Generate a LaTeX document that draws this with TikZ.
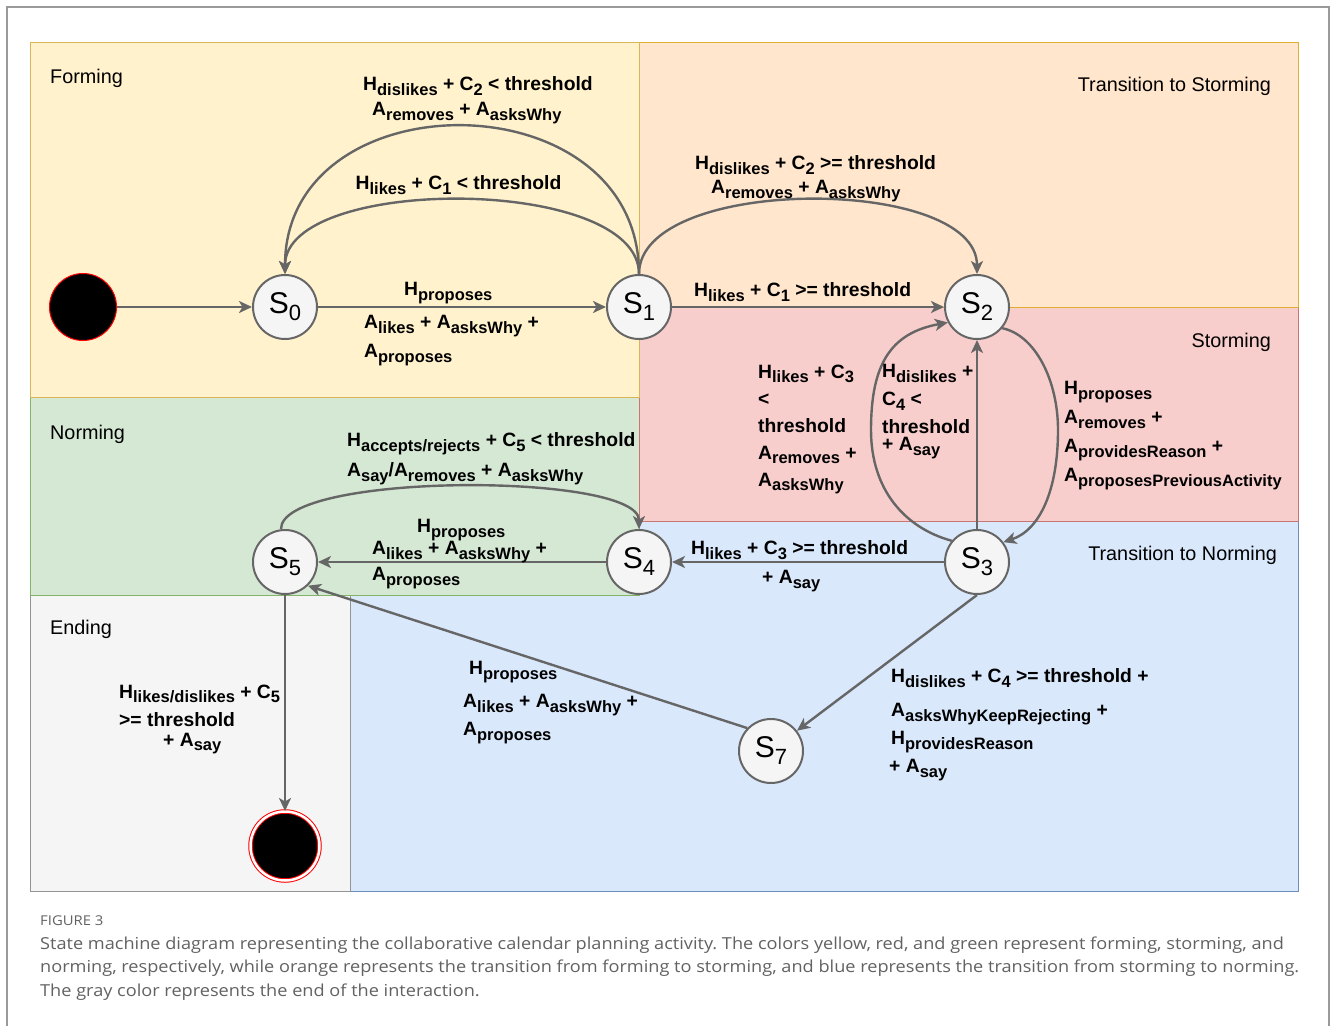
\documentclass[tikz,border=0pt]{standalone}
\usepackage{fontspec}
\setmainfont{Liberation Sans}
\newfontfamily\capfont[FakeStretch=1.1]{Open Sans}
\usetikzlibrary{arrows.meta}

\definecolor{yelF}{HTML}{FFF2CC}\definecolor{yelS}{HTML}{D6B656}
\definecolor{orgF}{HTML}{FFE6CC}\definecolor{orgS}{HTML}{D79B00}
\definecolor{redF}{HTML}{F8CECC}\definecolor{redS}{HTML}{B85450}
\definecolor{grnF}{HTML}{D5E8D4}\definecolor{grnS}{HTML}{82B366}
\definecolor{bluF}{HTML}{DAE8FC}\definecolor{bluS}{HTML}{6C8EBF}
\definecolor{gryF}{HTML}{F5F5F5}\definecolor{gryS}{HTML}{666666}
\definecolor{edgegray}{HTML}{666666}
\definecolor{framegray}{HTML}{9A9A9A}
\definecolor{captiongray}{HTML}{626262}

\setlength{\lineskiplimit}{-100pt}
\frenchspacing
% subscripts of transition labels and of state names
\newcommand\lsub[1]{\raisebox{-4.5pt}{\fontsize{16.5pt}{16.5pt}\selectfont #1}}
\newcommand\ssub[1]{\raisebox{-7pt}{\fontsize{22pt}{22pt}\selectfont #1}}
\newcommand\Hx[1]{H\lsub{#1}}
\newcommand\Ax[1]{A\lsub{#1}}
\newcommand\Cx[1]{C\lsub{#1}}

\begin{document}
\begin{tikzpicture}[x=1pt,y=-1pt,
  region/.style={line width=1pt},
  rlabel/.style={font=\fontsize{19.8pt}{22pt}\selectfont, inner sep=0pt, anchor=base west},
  state/.style={circle, draw=gryS, fill=gryF, line width=2pt, minimum size=64pt,
    inner sep=0pt, font=\fontsize{30pt}{30pt}\selectfont},
  lbl/.style={font=\bfseries\fontsize{19.3pt}{#1}\selectfont, inner sep=0pt,
    anchor=north west, align=left},
  lbl/.default=28pt,
  edge/.style={draw=edgegray, line width=2.4pt,
    -{Stealth[length=13pt,width=12pt,inset=3.5pt]}},
  captext/.style={font=\capfont\fontsize{16.5pt}{20pt}\selectfont, text=captiongray,
    inner sep=0pt, anchor=base west}
]
\useasboundingbox (0,0) rectangle (1330,1025);
\clip (0,0) rectangle (1330,1025);
\fill[white] (0,0) rectangle (1330,1025);

% outer frame
\draw[framegray, line width=1.5pt] (7,1040) -- (7,7) -- (1329,7) -- (1329,1040);

% phase regions
\draw[region, fill=bluF, draw=bluS] (350,521) rectangle (1298,891);
\draw[region, fill=gryF, draw=gryS!70] (30,595) rectangle (350,891);
\draw[region, fill=grnF, draw=grnS] (30,397) rectangle (639,595);
\draw[region, fill=redF, draw=redS!80] (639,307) rectangle (1298,521);
\draw[region, fill=orgF, draw=orgS!80] (639,43) rectangle (1298,307);
\draw[region, fill=yelF, draw=yelS] (30,43) rectangle (639,397);

\node[rlabel] (tform) at (50,83) {Forming};
\node[rlabel, anchor=base east] (ttostorm) at (1271,91) {Transition to Storming};
\node[rlabel, anchor=base east] (tstorm) at (1271,347) {Storming};
\node[rlabel] (tnorm) at (50,439) {Norming};
\node[rlabel, anchor=base east] (ttonorm) at (1277,560) {Transition to Norming};
\node[rlabel] (tend) at (50,634) {Ending};

% states
\node[circle, fill=black, draw=red, line width=1pt, minimum size=67pt, inner sep=0pt] (init) at (83,307) {};
\node[state] (s0) at (285,307) {S\ssub{0}};
\node[state] (s1) at (639,307) {S\ssub{1}};
\node[state] (s2) at (977,307) {S\ssub{2}};
\node[state] (s3) at (977,562) {S\ssub{3}};
\node[state] (s4) at (639,562) {S\ssub{4}};
\node[state] (s5) at (285,562) {S\ssub{5}};
\node[state] (s7) at (771,751) {S\ssub{7}};
\node[circle, fill=black, draw=red, line width=1pt, double=white, double distance=2.5pt,
  minimum size=69pt, inner sep=0pt] (fin) at (285,846) {};

% transitions
\draw[edge] (init) -- (s0);
\draw[edge] (s0) -- (s1);
\draw[edge] (s1.north) .. controls (639,77) and (285,77) .. (s0.north);
\draw[edge] (s1.north) .. controls (639,175) and (285,175) .. (s0.north);
\draw[edge] (s1.north) .. controls (639,175) and (977,175) .. (s2.north);
\draw[edge] (s1) -- (s2);
\draw[edge] (s3) -- (s2);
\draw[edge] (s3.140) .. controls (905,528) and (871,490) .. (871,430)
  .. controls (871,365) and (890,333) .. (s2.208);
\draw[edge] (s2.-40) .. controls (1035,335) and (1058,380) .. (1058,430)
  .. controls (1058,490) and (1040,530) .. (s3.37);
\draw[edge] (s3) -- (s4);
\draw[edge] (s4) -- (s5);
\draw[edge] (s5.97) .. controls (280,472) and (639,472) .. (s4.north);
\draw[edge] (s3.south) -- (s7.38);
\draw[edge] (s7.136) -- (s5.-46);
\draw[edge] (s5) -- (fin);

% transition labels
\node[lbl=25pt] (l1) at (363,76.5) {\Hx{dislikes} + \Cx{2} < threshold\\\hspace*{9pt}\Ax{removes} + \Ax{asksWhy}};
\node[lbl] (l2) at (355.5,175.5) {\Hx{likes} + \Cx{1} < threshold};
\node[lbl] (l3) at (404,282.5) {\Hx{proposes}};
\node[lbl=29pt] (l4) at (364,315.5) {\Ax{likes} + \Ax{asksWhy} +\\\Ax{proposes}};
\node[lbl=24pt] (l5) at (695,155.5) {\Hx{dislikes} + \Cx{2} >= threshold\\\hspace*{16pt}\Ax{removes} + \Ax{asksWhy}};
\node[lbl] (l6) at (694,282.5) {\Hx{likes} + \Cx{1} >= threshold};
\node[lbl=27pt] (l7) at (758,364.5) {\Hx{likes} + \Cx{3}\\<\\threshold\\\Ax{removes} +\\\Ax{asksWhy}};
\node[lbl=28pt] (l8) at (882,364.5) {\Hx{dislikes} +\\\Cx{4} <\\threshold\\[-11pt]+ \Ax{say}};
\node[lbl=29pt] (l9) at (1064,381.5) {\Hx{proposes}\\\Ax{removes} +\\\Ax{providesReason} +\\\Ax{proposesPreviousActivity}};
\node[lbl=30pt] (l10) at (347,432.5) {\Hx{accepts/rejects} + \Cx{5} < threshold\\\Ax{say}/\Ax{removes} + \Ax{asksWhy}};
\node[lbl] (l11) at (417,519.5) {\Hx{proposes}};
\node[lbl=26pt] (l12) at (372,541.5) {\Ax{likes} + \Ax{asksWhy} +\\\Ax{proposes}};
\node[lbl=28pt] (l13) at (119,684.5) {\Hx{likes/dislikes} + \Cx{5}\\>= threshold\\[-8pt]\hspace*{44pt}+ \Ax{say}};
\node[lbl=28pt] (l14) at (463,661.5) {\hspace*{6pt}\Hx{proposes}\\[5pt]\Ax{likes} + \Ax{asksWhy} +\\\Ax{proposes}};
\node[lbl=29pt] (l15) at (691,540.5) {\Hx{likes} + \Cx{3} >= threshold\\\hspace*{71pt}+ \Ax{say}};
\node[lbl=28pt] (l16) at (891,668.5) {\Hx{dislikes} + \Cx{4} >= threshold +\\[6pt]\Ax{asksWhyKeepRejecting} +\\\Hx{providesReason}\\\hspace*{-2pt}+ \Ax{say}};

% caption
\node[captext, font=\capfont\fontsize{13.5pt}{16pt}\selectfont] (fig) at (40,925) {FIGURE 3};
\node[captext] (cap1) at (40,949) {State machine diagram representing the collaborative calendar planning activity. The colors yellow, red, and green represent forming, storming, and};
\node[captext] (cap2) at (40,972) {norming, respectively, while orange represents the transition from forming to storming, and blue represents the transition from storming to norming.};
\node[captext] (cap3) at (40,996) {The gray color represents the end of the interaction.};
\end{tikzpicture}
\end{document}
